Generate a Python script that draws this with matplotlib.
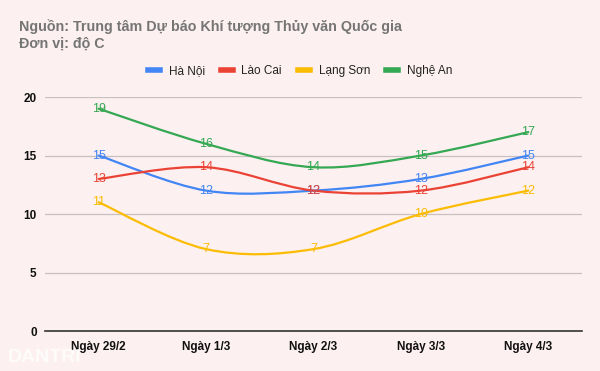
import matplotlib
matplotlib.use("Agg")
import matplotlib.pyplot as plt
from matplotlib.path import Path
from matplotlib.patches import PathPatch
from matplotlib.lines import Line2D
import numpy as np

plt.rcParams['font.family'] = ['Liberation Sans', 'DejaVu Sans']

categories = ["Ngày 29/2", "Ngày 1/3", "Ngày 2/3", "Ngày 3/3", "Ngày 4/3"]
series_names = ["Hà Nội", "Lào Cai", "Lạng Sơn", "Nghệ An"]
ha_noi = [15, 12, 12, 13, 15]
lao_cai = [13, 14, 12, 12, 14]
lang_son = [11, 7, 7, 10, 12]
nghe_an = [19, 16, 14, 15, 17]
colors = ["#4285F4", "#EA4335", "#FBBC04", "#34A853"]
y_ticks = [0, 5, 10, 15, 20]

bg = "#FDF0F0"
fig = plt.figure(figsize=(6, 3.71), dpi=100, facecolor=bg)
ax = fig.add_axes([0.075, 0.1078, 0.895, 0.6307], facecolor=bg)

def smooth_path(xs, ys):
    pts = np.column_stack([xs, ys]).astype(float)
    n = len(pts)
    verts = [pts[0]]
    codes = [Path.MOVETO]
    for i in range(n - 1):
        p0 = pts[i - 1] if i > 0 else pts[i]
        p1 = pts[i]
        p2 = pts[i + 1]
        p3 = pts[i + 2] if i + 2 < n else pts[i + 1]
        c1 = p1 + (p2 - p0) / 6.0
        c2 = p2 - (p3 - p1) / 6.0
        verts += [c1, c2, p2]
        codes += [Path.CURVE4] * 3
    return Path(verts, codes)

x = np.arange(len(categories))
all_series = [ha_noi, lao_cai, lang_son, nghe_an]
for vals, col, name in zip(all_series, colors, series_names):
    patch = PathPatch(smooth_path(x, vals), facecolor='none', edgecolor=col,
                      lw=1.6, zorder=3, capstyle='round')
    ax.add_patch(patch)
    for xi, v in zip(x, vals):
        ax.text(xi, v, str(v), color=col, fontsize=9, ha='center', va='center', zorder=4)

ax.set_xlim(-0.5, len(categories) - 0.5)
ax.set_ylim(0, 20)
ax.set_yticks(y_ticks)
ax.set_yticklabels([str(t) for t in y_ticks], fontsize=8.5, fontweight='bold', color='#111111')
ax.set_xticks(x)
ax.set_xticklabels(categories, fontsize=8.5, fontweight='bold', color='#111111')
ax.tick_params(axis='y', length=0, pad=6)
ax.tick_params(axis='x', length=0, pad=7)
ax.grid(axis='y', color='#c9c0c0', lw=0.9)
ax.set_axisbelow(True)
for s in ['top', 'right', 'left']:
    ax.spines[s].set_visible(False)
ax.spines['bottom'].set_color('#333333')
ax.spines['bottom'].set_linewidth(1.2)

fig.text(19/600, 1 - 27/371, "Nguồn: Trung tâm Dự báo Khí tượng Thủy văn Quốc gia",
         fontsize=10.3, fontweight='bold', color='#757575', va='center', ha='left')
fig.text(19/600, 1 - 44/371, "Đơn vị: độ C",
         fontsize=10.3, fontweight='bold', color='#757575', va='center', ha='left')

handles = [Line2D([0], [0], color=c, lw=4) for c in colors]
fig.legend(handles, series_names, loc='center', bbox_to_anchor=(300/600, 1 - 71/371),
           ncol=4, frameon=False, fontsize=8.5, handlelength=1.0, handletextpad=0.75,
           columnspacing=1.35, labelcolor='#222222')

fig.text(8/600, 1 - 358/371, "DANTRI", fontsize=14, fontweight='bold',
         color='white', alpha=0.8, va='center', ha='left')

fig.savefig("out.png", dpi=100, facecolor=bg)
